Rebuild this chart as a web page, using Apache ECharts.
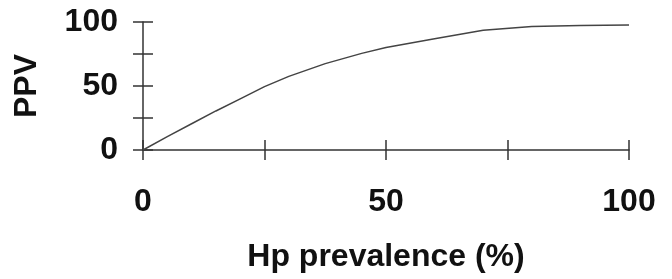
<!DOCTYPE html>
<html>
<head>
<meta charset="utf-8">
<script src="https://cdn.jsdelivr.net/npm/echarts@6/dist/echarts.min.js"></script>
<style>
  html, body { margin: 0; padding: 0; background: #fff; }
  #chart { width: 672px; height: 279px; }
</style>
</head>
<body>
<div id="chart"></div>
<script>
// values
var prevalence = [0, 5, 10, 15, 20, 25, 30, 37.5, 45, 50, 60, 70, 80, 90, 100];
var ppv = [0, 10.5, 20.5, 30.5, 40, 49.5, 57.5, 67.5, 75.5, 80, 87, 93.5, 96.5, 97.3, 97.7];
var shownTicks = [0, 50, 100];

var font = 'Liberation Sans, Arial, sans-serif';
var ink = '#111';
var axisColor = '#333';

function tickLabel(v) {
  return shownTicks.indexOf(v) >= 0 ? String(v) : '';
}

var chart = echarts.init(document.getElementById('chart'));

function baseAxis(extra) {
  return Object.assign({
    type: 'value',
    min: 0,
    max: 100,
    interval: 25,
    splitLine: { show: false },
    axisLine: { lineStyle: { color: axisColor, width: 1.5 } },
    axisTick: { lineStyle: { color: axisColor, width: 1.5 } }
  }, extra);
}

chart.setOption({
  animation: false,
  grid: { left: 143, right: 43, top: 22, bottom: 129, outerBoundsMode: 'none', containLabel: false },
  xAxis: [
    baseAxis({
      position: 'bottom',
      axisTick: { inside: true, length: 10, lineStyle: { color: axisColor, width: 1.5 } },
      axisLabel: { formatter: tickLabel, margin: 36, fontFamily: font, fontWeight: 'bold', fontSize: 32, color: ink },
      name: 'Hp prevalence (%)',
      nameLocation: 'middle',
      nameGap: 91,
      nameTextStyle: { fontFamily: font, fontWeight: 'bold', fontSize: 32, color: ink }
    }),
    baseAxis({
      position: 'bottom',
      axisLine: { show: false },
      axisTick: { inside: false, length: 10, lineStyle: { color: axisColor, width: 1.5 } },
      axisLabel: { show: false }
    })
  ],
  yAxis: [
    baseAxis({
      position: 'left',
      axisTick: { inside: true, length: 10, lineStyle: { color: axisColor, width: 1.5 } },
      axisLabel: { formatter: tickLabel, margin: 25, fontFamily: font, fontWeight: 'bold', fontSize: 32, color: ink },
      name: 'PPV',
      nameLocation: 'middle',
      nameRotate: 90,
      nameGap: 100,
      nameTextStyle: { fontFamily: font, fontWeight: 'bold', fontSize: 32, color: ink }
    }),
    baseAxis({
      position: 'left',
      axisLine: { show: false },
      axisTick: { inside: false, length: 10, lineStyle: { color: axisColor, width: 1.5 } },
      axisLabel: { show: false }
    })
  ],
  series: [{
    type: 'line',
    xAxisIndex: 0,
    yAxisIndex: 0,
    data: prevalence.map(function (p, i) { return [p, ppv[i]]; }),
    symbol: 'none',
    lineStyle: { color: '#444', width: 1.5 }
  }]
});
</script>
</body>
</html>
